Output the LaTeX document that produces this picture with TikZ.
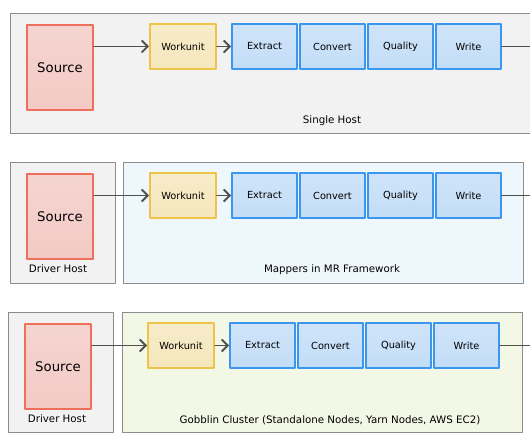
\documentclass[tikz,border=0pt]{standalone}
\usepackage{fontspec}
\setmainfont{DejaVu Sans}
\usetikzlibrary{positioning,arrows.meta}
\definecolor{hostfill}{HTML}{F2F2F2}
\definecolor{hostline}{HTML}{8C8C8C}
\definecolor{mrfill}{HTML}{EEF8FC}
\definecolor{gcfill}{HTML}{F3F8E6}
\definecolor{srcfill}{HTML}{F3CAC5}
\definecolor{srcline}{HTML}{EE6F5C}
\definecolor{wufill}{HTML}{F5E7BC}
\definecolor{wuline}{HTML}{EDC34A}
\definecolor{stepfill}{HTML}{C3DDF7}
\definecolor{stepline}{HTML}{3A96EE}
\definecolor{flowcol}{HTML}{505050}
\begin{document}
\begin{tikzpicture}[x=1bp,y=-1bp,line cap=round,line join=round,
		>={Straight Barb[length=6bp,width=12bp]},
		font=\fontsize{10.3}{12}\selectfont,text=black]
	\tikzset{hostbox/.style={draw=hostline,line width=1bp},
		box/.style={line width=2bp,inner sep=0pt},
		srcbox/.style={box,draw=srcline,top color=srcfill!80,bottom color=srcfill,
				minimum width=66bp,minimum height=85bp,font=\fontsize{13.3}{15}\selectfont},
		wubox/.style={box,draw=wuline,top color=wufill!80,bottom color=wufill,
				minimum width=66bp,minimum height=45bp,font=\fontsize{9.8}{11}\selectfont},
		stepbox/.style={box,draw=stepline,top color=stepfill!80,bottom color=stepfill,
				minimum width=65bp,minimum height=45bp,font=\fontsize{9.8}{11}\selectfont},
		flow/.style={draw=flowcol,line width=1.8bp}}
	\useasboundingbox (0,0) rectangle (530,442);
	\clip (0,0) rectangle (530,442);
	% hosts
	\draw[hostbox,fill=hostfill] (10.5,13.5) rectangle (545,133.5);
	\draw[hostbox,fill=hostfill] (10.5,162.5) rectangle (115.5,283.5);
	\draw[hostbox,fill=mrfill] (123.5,162.5) rectangle (523.5,283.5);
	\draw[hostbox,fill=hostfill] (8.5,312.5) rectangle (113.5,432.5);
	\draw[hostbox,fill=gcfill] (122.5,312.5) rectangle (522.5,432.5);
	\node (dh2) at (58,269) {Driver Host};
	\node (dh3) at (57,419) {Driver Host};
	% one pipeline per row
	\foreach \r/\ox/\oy/\lbl in {1/0/0/Single Host,2/0/149/Mappers in MR Framework,
			3/-2/299/{Gobblin Cluster (Standalone Nodes, Yarn Nodes, AWS EC2)}}{
			\node[srcbox] (src\r) at (60+\ox,67.5+\oy) {Source};
			\node[wubox] (wu\r) at (183+\ox,46.5+\oy) {Workunit};
			\node[stepbox,right=14bp of wu\r] (ex\r) {Extract};
			\node[stepbox,right=1bp of ex\r] (cv\r) {Convert};
			\node[stepbox,right=1bp of cv\r] (ql\r) {Quality};
			\node[stepbox,right=1bp of ql\r] (wr\r) {Write};
			\node (lbl\r) at (332+\ox,121+\oy) {\lbl};
			\coordinate (out\r) at (535,46.5+\oy);
			\draw[flow,->] (src\r.east |- wu\r) -- (wu\r);
			\draw[flow,->] (wu\r) -- (ex\r);
			\draw[flow] (wr\r) -- (out\r);}
\end{tikzpicture}
\end{document}
